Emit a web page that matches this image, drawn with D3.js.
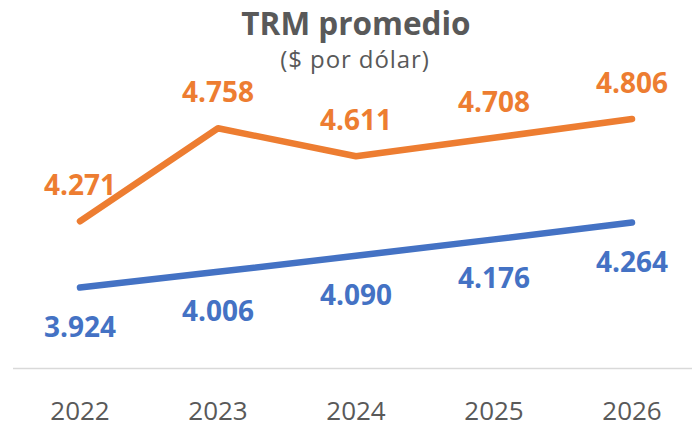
<!DOCTYPE html>
<html>
<head>
<meta charset="utf-8">
<script src="https://cdn.jsdelivr.net/npm/d3@7"></script>
<style>
  html, body { margin: 0; padding: 0; background: #fff; }
  svg { display: block; }
</style>
</head>
<body>
<svg id="chart" width="692" height="426"></svg>
<script>
const years = ["2022", "2023", "2024", "2025", "2026"];
const seriesHigh = [4.271, 4.758, 4.611, 4.708, 4.806];
const seriesLow = [3.924, 4.006, 4.090, 4.176, 4.264];
const highLabels = ["4.271", "4.758", "4.611", "4.708", "4.806"];
const lowLabels = ["3.924", "4.006", "4.090", "4.176", "4.264"];
const titleText = "TRM promedio";
const subtitleText = "($ por dólar)";

const svg = d3.select("#chart");
const font = "'Open Sans', sans-serif";
const gray = "#595959";
const orange = "#ED7D31";
const blue = "#4472C4";

const x = d3.scaleBand().domain(years).range([11, 701]);
const y = d3.scaleLinear().domain([3.5, 5.0]).range([368.5, 82]);
const cx = d => x(d) + x.bandwidth() / 2;

// Title
svg.append("text").attr("x", 356).attr("y", 35).attr("text-anchor", "middle")
  .attr("font-family", font).attr("font-weight", 700).attr("font-size", 31.5)
  .attr("fill", gray).text(titleText);
svg.append("text").attr("x", 355).attr("y", 68).attr("text-anchor", "middle")
  .attr("font-family", font).attr("font-size", 24).attr("letter-spacing", 0.9)
  .attr("fill", gray).text(subtitleText);

// Axis
const axis = d3.axisBottom(x).tickSize(0).tickPadding(0);
const gAxis = svg.append("g").attr("transform", "translate(0,368.5)").call(axis);
gAxis.select(".domain").remove();
svg.append("line").attr("x1", 13).attr("x2", 692).attr("y1", 368.5).attr("y2", 368.5)
  .attr("stroke", "#d9d9d9").attr("stroke-width", 1.5);
gAxis.selectAll(".tick text")
  .attr("y", 51).attr("dy", null)
  .attr("font-family", font).attr("font-size", 26).attr("fill", gray);

// Lines
const line = d3.line().x((d, i) => cx(years[i])).y(d => y(d));
svg.append("path").datum(seriesLow).attr("d", line).attr("fill", "none")
  .attr("stroke", blue).attr("stroke-width", 6.5).attr("stroke-linecap", "round").attr("stroke-linejoin", "round");
svg.append("path").datum(seriesHigh).attr("d", line).attr("fill", "none")
  .attr("stroke", orange).attr("stroke-width", 6.5).attr("stroke-linecap", "round").attr("stroke-linejoin", "round");

// Labels
svg.append("g").selectAll("text").data(seriesHigh).join("text")
  .attr("x", (d, i) => cx(years[i])).attr("y", d => y(d) - 26)
  .attr("text-anchor", "middle").attr("font-family", font).attr("font-weight", 700)
  .attr("font-size", 28).attr("fill", orange).text((d, i) => highLabels[i]);
svg.append("g").selectAll("text").data(seriesLow).join("text")
  .attr("x", (d, i) => cx(years[i])).attr("y", d => y(d) + 49)
  .attr("text-anchor", "middle").attr("font-family", font).attr("font-weight", 700)
  .attr("font-size", 28).attr("fill", blue).text((d, i) => lowLabels[i]);
</script>
</body>
</html>
